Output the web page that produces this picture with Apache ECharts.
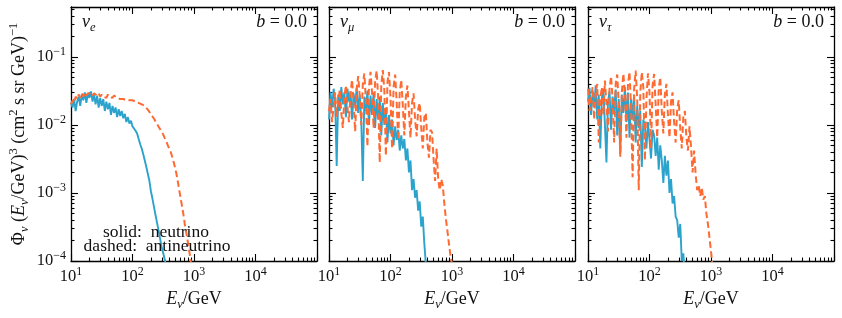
<!DOCTYPE html>
<html><head><meta charset="utf-8">
<script src="https://cdn.jsdelivr.net/npm/echarts@6/dist/echarts.min.js"></script>
<style>html,body{margin:0;padding:0;background:#fff}#c{width:842px;height:318px}</style>
</head><body><div id="c"></div>
<script>
// Energy grid (GeV)
const energies = [10, 10.59, 11.22, 11.89, 12.59, 13.34, 14.13, 14.96, 15.85, 16.79, 17.78, 18.84, 19.95, 21.13, 22.39, 23.71, 25.12, 26.61, 28.18, 29.85, 31.62, 33.5, 35.48, 37.58, 39.81, 42.17, 44.67, 47.32, 50.12, 53.09, 56.23, 59.57, 63.1, 66.83, 70.79, 74.99, 79.43, 84.14, 89.13, 94.41, 100, 105.9, 112.2, 118.9, 125.9, 133.4, 141.3, 149.6, 158.5, 167.9, 177.8, 188.4, 199.5, 211.3, 223.9, 237.1, 251.2, 266.1, 281.8, 298.5, 316.2, 335, 354.8, 375.8, 398.1, 421.7, 446.7, 473.2, 501.2, 530.9, 562.3, 595.7, 631, 668.3, 707.9, 749.9, 794.3, 841.4, 891.3, 944.1, 1000, 1059];

// nu_e panel
const nueNeutrino = [0.021,0.018,0.024,0.016,0.022,0.026,0.019,0.028,0.023,0.030,
 0.021,0.029,0.025,0.031,0.022,0.028,0.020,0.027,0.018,0.025,
 0.019,0.024,0.016,0.022,0.017,0.021,0.014,0.019,0.015,0.018,
 0.013,0.017,0.0135,0.016,0.0125,0.0145,0.011,0.013,0.0105,0.0115,
 0.0095,0.0098,0.0082,0.0075,0.0062,0.0052,0.0045,0.0037,0.0030,0.0024,
 0.0019,0.0015,0.00105,0.00082,0.00062,0.00047,0.00036,0.00028,0.00021,0.00016,
 0.00013,0.000105,0.00008];
const nueAntineutrino = [0.020,0.023,0.021,0.026,0.024,0.028,0.025,0.029,0.026,0.030,
 0.027,0.029,0.028,0.030,0.027,0.029,0.028,0.027,0.029,0.026,
 0.028,0.026,0.027,0.025,0.028,0.026,0.027,0.025,0.027,0.026,
 0.025,0.026,0.024,0.025,0.024,0.025,0.023,0.024,0.023,0.0235,
 0.023,0.0225,0.022,0.0215,0.021,0.0205,0.0200,0.0196,
 0.019,0.0178,0.0167,0.0155,0.0145,0.0133,0.0123,0.0112,0.0103,0.0094,
 0.0086,0.0079,0.0072,0.0064,0.0057,0.0050,0.0044,0.0039,0.0033,0.0027,
 0.0022,0.0017,0.00125,0.00092,0.00068,0.0005,0.00035,0.00026,0.00019,0.000135,
 0.000095];

// nu_mu panel
const numuNeutrino = [0.012,0.030,0.018,0.034,0.022,0.0025,0.028,0.016,0.036,0.020,
 0.030,0.013,0.034,0.022,0.031,0.012,0.029,0.019,0.035,0.015,
 0.028,0.011,0.0015,0.026,0.016,0.032,0.010,0.027,0.014,0.030,
 0.009,0.024,0.012,0.026,0.007,0.021,0.010,0.018,0.0055,0.014,
 0.0075,0.012,0.0050,0.0095,0.0060,0.0085,0.0042,0.0070,0.0045,0.0062,
 0.0030,0.0045,0.0020,0.0030,0.0011,0.0016,0.00085,0.0011,0.00055,0.00075,
 0.00032,0.00045,0.00018,0.00009,0.00005];
const numuAntineutrino = [0.016,0.024,0.011,0.019,0.030,0.013,0.022,0.033,0.015,0.009,
 0.026,0.038,0.018,0.011,0.030,0.046,0.021,0.008,0.034,0.052,
 0.026,0.010,0.040,0.057,0.022,0.0048,0.036,0.060,0.030,0.009,
 0.044,0.063,0.024,0.0028,0.038,0.064,0.032,0.0035,0.042,0.060,
 0.026,0.0045,0.036,0.055,0.022,0.006,0.030,0.046,0.019,0.007,
 0.026,0.038,0.016,0.0065,0.021,0.029,0.012,0.0068,0.017,0.021,
 0.009,0.0045,0.013,0.015,0.0055,0.0033,0.0085,0.0078,0.0032,0.0015,
 0.0045,0.0016,0.0011,0.0016,0.0013,0.0007,0.00042,0.00028,0.00018,0.00012,
 0.00009];

// nu_tau panel
const nutauNeutrino = [0.022,0.035,0.014,0.030,0.018,0.038,0.012,0.028,0.0045,0.025,
 0.034,0.010,0.0028,0.022,0.031,0.0085,0.026,0.016,0.033,0.007,
 0.024,0.0038,0.028,0.015,0.036,0.011,0.030,0.0065,0.024,0.012,
 0.028,0.0055,0.019,0.009,0.016,0.0024,0.012,0.0095,0.0045,0.011,
 0.0060,0.0032,0.0085,0.0070,0.0035,0.0065,0.0022,0.0050,0.0030,0.0014,
 0.0035,0.0018,0.0030,0.0010,0.0016,0.0007,0.0009,0.00045,0.00040,0.00022,
 0.00035,0.00010,0.00013,0.00006];
const nutauAntineutrino = [0.034,0.016,0.026,0.036,0.012,0.030,0.040,0.0055,0.024,0.036,
 0.014,0.045,0.020,0.008,0.034,0.052,0.024,0.0055,0.040,0.055,
 0.020,0.0034,0.030,0.057,0.028,0.0065,0.040,0.060,0.018,0.0017,
 0.034,0.063,0.024,0.0011,0.030,0.060,0.035,0.0030,0.024,0.057,
 0.030,0.0045,0.038,0.056,0.020,0.0065,0.034,0.050,0.016,0.0075,
 0.028,0.040,0.014,0.0065,0.022,0.030,0.011,0.0055,0.017,0.023,
 0.009,0.0045,0.013,0.016,0.0065,0.0042,0.0095,0.0048,0.0020,0.0042,
 0.0019,0.0011,0.0013,0.0009,0.0012,0.0008,0.0009,0.0005,0.00035,0.00022,
 0.00014,0.00008];

const flavourLabels = ['e', 'μ', 'τ'];
const neutrinoSets = [nueNeutrino, numuNeutrino, nutauNeutrino];
const antineutrinoSets = [nueAntineutrino, numuAntineutrino, nutauAntineutrino];
const xMajorExponents = [1, 2, 3, 4];
const yMajorExponents = [-4, -3, -2, -1];

const X_MIN = 10, X_MAX = 1e5, Y_MIN = 1e-4, Y_MAX = 0.54;
const xMinor = [];
[10, 100, 1000, 10000].forEach(d => { for (let k = 2; k <= 9; k++) xMinor.push(k * d); });
const yMinor = [];
[1e-4, 1e-3, 1e-2, 1e-1].forEach(d => { for (let k = 2; k <= 9; k++) { const v = +(k * d).toPrecision(3); if (v <= Y_MAX) yMinor.push(v); } });

const FONT = '"Liberation Serif", "DejaVu Serif", serif';
const TXT = '#111';
const BLUE = '#2ba3cc';
const ORANGE = '#ff6a33';

const richBase = {
  n: { fontFamily: FONT, fontSize: 18, color: TXT, lineHeight: 24 },
  i: { fontFamily: FONT, fontSize: 18, fontStyle: 'italic', color: TXT, lineHeight: 24 },
  sub: { fontFamily: FONT, fontSize: 12.5, fontStyle: 'italic', color: TXT, lineHeight: 14, verticalAlign: 'bottom' },
  sup: { fontFamily: FONT, fontSize: 12.5, color: TXT, lineHeight: 13, verticalAlign: 'top' },
  b: { fontFamily: FONT, fontSize: 16.5, color: TXT, lineHeight: 22 },
  s: { fontFamily: FONT, fontSize: 12, color: TXT, lineHeight: 12, verticalAlign: 'top' }
};

const GRID_LEFT = [71, 329, 588];
const GRID_W = 246, GRID_TOP = 7, GRID_H = 254;

const lineStyleAxis = { color: '#000', width: 1.3 };
const tickStyle = { color: '#000', width: 1.1 };

const grids = [], xAxes = [], yAxes = [], series = [], graphics = [];

for (let p = 0; p < 3; p++) {
  grids.push({ left: GRID_LEFT[p], top: GRID_TOP, width: GRID_W, height: GRID_H, containLabel: false });
  const xb = { type: 'log', logBase: 10, min: X_MIN, max: X_MAX, gridIndex: p, splitLine: { show: false }, minorSplitLine: { show: false } };
  xAxes.push(Object.assign({}, xb, {
    position: 'bottom',
    axisLine: { show: true, onZero: false, lineStyle: lineStyleAxis },
    axisTick: { show: true, inside: true, length: 7, lineStyle: tickStyle },
    axisLabel: {
      show: true, margin: 5, rich: richBase,
      formatter: v => {
        const e = Math.round(Math.log10(v));
        if (Math.abs(v - Math.pow(10, e)) > 1e-6 * v || xMajorExponents.indexOf(e) < 0) return '';
        return '{b|10}{s|' + e + '}';
      }
    },
    name: '{i|E}{sub|ν}{n|/GeV}', nameLocation: 'middle', nameGap: 26,
    nameTextStyle: { rich: richBase }
  }));
  xAxes.push(Object.assign({}, xb, {
    position: 'bottom', axisLine: { show: false },
    axisTick: { show: true, inside: true, length: 3.5, lineStyle: tickStyle, customValues: xMinor },
    axisLabel: { show: false }
  }));
  xAxes.push(Object.assign({}, xb, {
    position: 'top', axisLine: { show: true, onZero: false, lineStyle: lineStyleAxis },
    axisTick: { show: true, inside: true, length: 7, lineStyle: tickStyle },
    axisLabel: { show: false }
  }));
  xAxes.push(Object.assign({}, xb, {
    position: 'top', axisLine: { show: false },
    axisTick: { show: true, inside: true, length: 3.5, lineStyle: tickStyle, customValues: xMinor },
    axisLabel: { show: false }
  }));

  const yb = { type: 'log', logBase: 10, min: Y_MIN, max: Y_MAX, gridIndex: p, splitLine: { show: false }, minorSplitLine: { show: false } };
  const yMain = Object.assign({}, yb, {
    position: 'left',
    axisLine: { show: true, onZero: false, lineStyle: lineStyleAxis },
    axisTick: { show: true, inside: true, length: 7, lineStyle: tickStyle },
    axisLabel: {
      show: p === 0, margin: 5, rich: richBase,
      formatter: v => {
        const e = Math.round(Math.log10(v));
        if (Math.abs(v - Math.pow(10, e)) > 1e-6 * v || yMajorExponents.indexOf(e) < 0) return '';
        return '{b|10}{s|−' + (-e) + '}';
      }
    }
  });
  if (p === 0) {
    yMain.name = '{n|Φ}{sub|ν}{n| (}{i|E}{sub|ν}{n|/GeV)}{sup|3}{n| (cm}{sup|2}{n| s sr GeV)}{sup|−1}';
    yMain.nameLocation = 'middle';
    yMain.nameGap = 40;
    yMain.nameRotate = 90;
    yMain.nameTextStyle = { rich: richBase };
  }
  yAxes.push(yMain);
  yAxes.push(Object.assign({}, yb, {
    position: 'left', axisLine: { show: false },
    axisTick: { show: true, inside: true, length: 3.5, lineStyle: tickStyle, customValues: yMinor },
    axisLabel: { show: false }
  }));
  yAxes.push(Object.assign({}, yb, {
    position: 'right', axisLine: { show: true, onZero: false, lineStyle: lineStyleAxis },
    axisTick: { show: true, inside: true, length: 7, lineStyle: tickStyle },
    axisLabel: { show: false }
  }));
  yAxes.push(Object.assign({}, yb, {
    position: 'right', axisLine: { show: false },
    axisTick: { show: true, inside: true, length: 3.5, lineStyle: tickStyle, customValues: yMinor },
    axisLabel: { show: false }
  }));

  series.push({
    type: 'line', xAxisIndex: 4 * p, yAxisIndex: 4 * p, symbol: 'none', showSymbol: false, clip: true,
    data: neutrinoSets[p].map((v, i) => [energies[i], v]),
    lineStyle: { color: BLUE, width: 1.9 }, z: 2
  });
  series.push({
    type: 'line', xAxisIndex: 4 * p, yAxisIndex: 4 * p, symbol: 'none', showSymbol: false, clip: true,
    data: antineutrinoSets[p].map((v, i) => [energies[i], v]),
    lineStyle: { color: ORANGE, width: 2, type: [6.5, 3.5] }, z: 3
  });

  const gr = {
    gi: { fontFamily: FONT, fontSize: 18, fontStyle: 'italic', fill: TXT, lineHeight: 24 },
    gs: { fontFamily: FONT, fontSize: 12.5, fontStyle: 'italic', fill: TXT, lineHeight: 14, verticalAlign: 'bottom' },
    gn: { fontFamily: FONT, fontSize: 18, fill: TXT, lineHeight: 24 }
  };
  graphics.push({
    type: 'text', left: GRID_LEFT[p] + 11, top: 13, z: 10,
    style: { text: '{gi|ν}{gs|' + flavourLabels[p] + '}', rich: gr }
  });
  graphics.push({
    type: 'text', right: 842 - (GRID_LEFT[p] + GRID_W) + 10, top: 13, z: 10,
    style: { text: '{gi|b}{gn| = 0.0}', rich: gr }
  });
}

graphics.push({
  type: 'text', x: 156, y: 232, z: 10,
  style: { text: 'solid:  neutrino', font: '17.5px ' + FONT, fill: TXT, align: 'center', verticalAlign: 'middle' }
});
graphics.push({
  type: 'text', x: 157, y: 246, z: 10,
  style: { text: 'dashed:  antineutrino', font: '17.5px ' + FONT, fill: TXT, align: 'center', verticalAlign: 'middle' }
});

const chart = echarts.init(document.getElementById('c'), null, { renderer: 'canvas' });
chart.setOption({
  animation: false,
  backgroundColor: '#fff',
  grid: grids,
  xAxis: xAxes,
  yAxis: yAxes,
  series: series,
  graphic: graphics
});
</script>
</body></html>
